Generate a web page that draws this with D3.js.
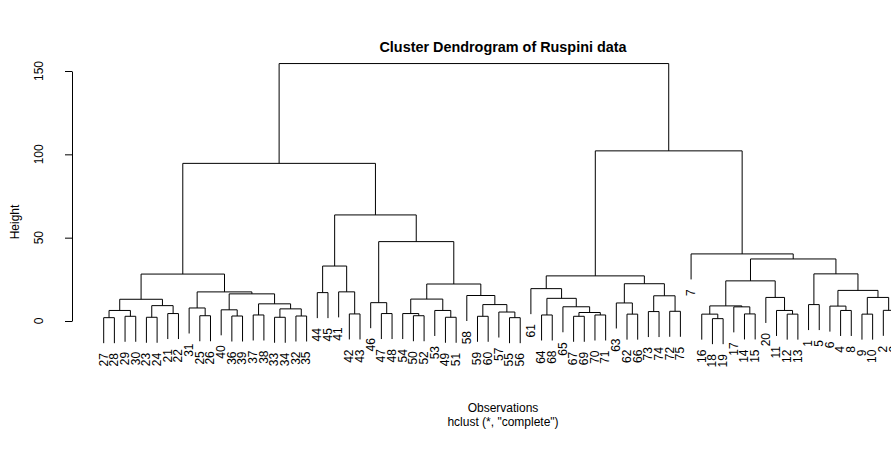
<!DOCTYPE html>
<html><head><meta charset="utf-8">
<script src="https://cdn.jsdelivr.net/npm/d3@7"></script>
<style>
body{margin:0;background:#fff}
svg{display:block}
text{font-family:"Liberation Sans",Arial,Helvetica,sans-serif;fill:#000}
</style>
</head><body>
<svg id="c" width="891" height="461"></svg>
<script>
// leaf order (observation numbers, left to right)
const order = [27,28,29,30,23,24,21,22,31,25,26,40,36,39,37,38,33,34,32,35,
  44,45,41,42,43,46,47,48,54,50,52,53,49,51,58,59,60,57,55,56,
  61,64,68,65,67,69,70,71,63,62,66,73,74,72,75,
  7,16,18,19,17,14,15,20,11,12,13,1,5,6,4,8,9,10,2,3];
// merge steps: negative = observation, positive = earlier merge (1-based)
const merges = [
  [-18,-19],[-27,-28],[-55,-56],[-49,-51],[-23,-24],[-33,-34],[-29,-30],[-59,-60],[-67,-69],[-36,-39],
  [-32,-35],[-50,-52],[-25,-26],[-64,-68],[-37,-38],[-70,-71],[-62,-66],[-16,1],[-12,-13],[-9,-10],
  [-42,-43],[-14,-15],[-21,-22],[-47,-48],[-54,12],[9,16],[-57,3],[-73,-74],[-72,-75],[2,7],
  [-53,4],[-11,19],[-4,-8],[-2,-3],[-40,10],[6,11],[-31,13],[-17,22],[-65,26],[-6,33],
  [18,38],[5,23],[-1,-5],[8,27],[15,36],[-63,17],[-46,24],[30,42],[25,31],[14,39],
  [20,34],[-20,32],[28,29],[-58,44],[35,45],[-44,-45],[37,55],[-41,21],[40,51],[-61,50],
  [49,54],[46,53],[41,52],[60,62],[48,57],[43,59],[56,58],[63,66],[-7,68],[47,61],
  [67,70],[65,71],[64,69],[72,73]
];
// merge heights
const heights = [
  1.41,2.00,2.00,2.24,2.24,2.24,2.83,2.83,2.83,3.00,
  3.00,3.16,3.16,3.61,3.61,3.61,4.12,4.12,4.12,4.12,
  4.24,4.24,4.47,4.47,4.47,5.10,5.39,5.66,5.83,6.32,
  6.32,6.32,6.32,6.40,6.71,7.28,7.81,8.49,8.54,8.94,
  9.06,9.22,9.85,9.85,10.30,10.82,11.00,13.04,13.15,13.60,
  14.14,14.14,15.13,15.30,16.28,17.03,17.46,17.49,18.36,19.42,
  22.20,22.36,24.08,27.07,28.16,28.28,32.98,37.22,40.25,47.63,
  63.64,94.58,102.08,154.47
];
const yTicks = [0,50,100,150];
const titleText = "Cluster Dendrogram of Ruspini data";
const xTitle = "Observations";
const subTitle = 'hclust (*, "complete")';
const yTitle = "Height";

const svg = d3.select("#c");
const x = d3.scaleLinear().domain([1, order.length]).range([103.7, 894.0]);
const y = d3.scaleLinear().domain([0, 150]).range([321, 71]);
const hang = 0.1 * (d3.max(heights) - d3.min(heights));
const labelOffset = 10;

const leafX = new Map(order.map((o, i) => [o, x(i + 1)]));
const nodeX = [];
const cx = c => c < 0 ? leafX.get(-c) : nodeX[c - 1];
const cy = (c, h) => c < 0 ? h - hang : heights[c - 1];
merges.forEach((m, i) => { nodeX[i] = (cx(m[0]) + cx(m[1])) / 2; });

const g = svg.append("g");
g.selectAll("path.br").data(merges).join("path")
  .attr("class", "br")
  .attr("fill", "none").attr("stroke", "#000").attr("stroke-width", 1)
  .attr("d", (m, i) => {
    const h = heights[i];
    return `M${cx(m[0])},${y(cy(m[0], h))}V${y(h)}H${cx(m[1])}V${y(cy(m[1], h))}`;
  });

// leaf labels
const leaves = [];
merges.forEach((m, i) => m.forEach(c => { if (c < 0) leaves.push({obs: -c, h: heights[i] - hang}); }));
g.selectAll("text.leaf").data(leaves).join("text")
  .attr("class", "leaf")
  .attr("font-size", 12)
  .attr("text-anchor", "end")
  .attr("dy", "0.32em")
  .attr("transform", d => `translate(${leafX.get(d.obs)},${y(d.h) + labelOffset}) rotate(-90)`)
  .text(d => d.obs);

// y axis
const axis = d3.axisLeft(y).tickValues(yTicks).tickSize(7).tickSizeOuter(0).tickFormat("");
const ag = svg.append("g").attr("transform", "translate(72,0)").call(axis);
ag.select(".domain").attr("stroke", "#000");
ag.selectAll(".tick line").attr("stroke", "#000");
svg.selectAll("text.ytl").data(yTicks).join("text")
  .attr("class", "ytl").attr("font-size", 12).attr("text-anchor", "middle")
  .attr("transform", d => `translate(43,${y(d)}) rotate(-90)`)
  .text(d => d);

svg.append("text").attr("font-size", 12).attr("text-anchor", "middle")
  .attr("transform", "translate(19,222) rotate(-90)").text(yTitle);
svg.append("text").attr("font-size", 14.4).attr("font-weight", "bold").attr("text-anchor", "middle")
  .attr("x", 503).attr("y", 51.5).text(titleText);
svg.append("text").attr("font-size", 12).attr("text-anchor", "middle")
  .attr("x", 503).attr("y", 412).text(xTitle);
svg.append("text").attr("font-size", 12).attr("text-anchor", "middle")
  .attr("x", 503).attr("y", 425.5).text(subTitle);
</script>
</body></html>
